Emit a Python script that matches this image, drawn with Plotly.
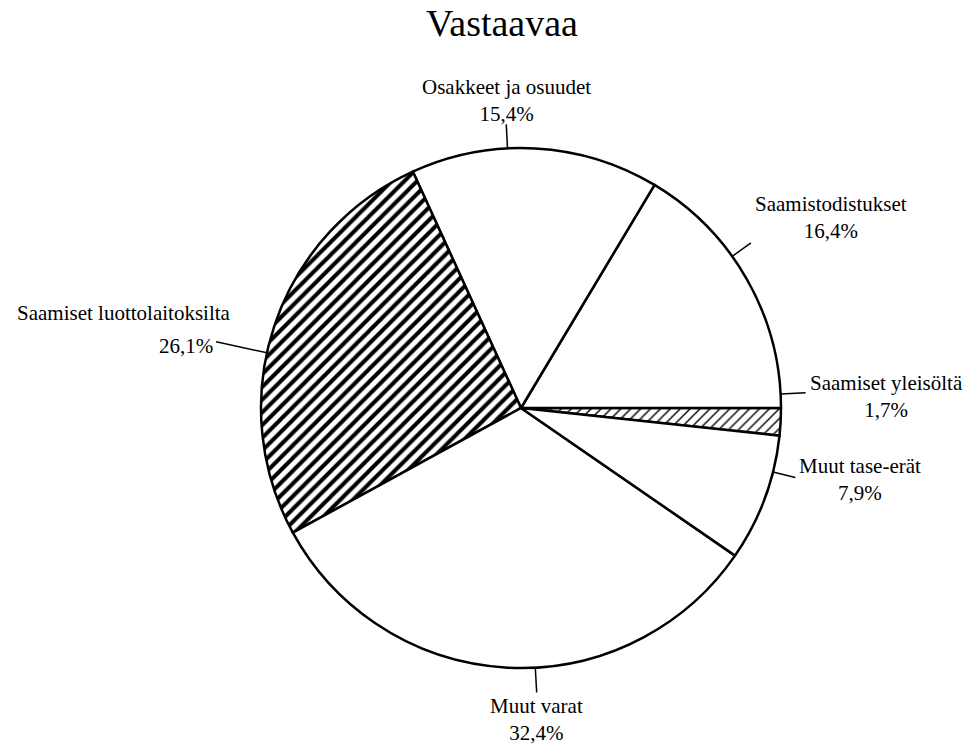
import math
import plotly.graph_objects as go

# ---- data ----
labels = ["Saamiset yleisöltä", "Saamistodistukset", "Osakkeet ja osuudet",
          "Saamiset luottolaitoksilta", "Muut varat", "Muut tase-erät"]
values = [1.7, 16.4, 15.4, 26.1, 32.4, 7.9]
title_text = "Vastaavaa"

# ---- styling ----
W, H = 970, 749
CX, CY, R = 521, 408, 260   # pie centre / radius (pixels)
FONT = "Liberation Serif, Times New Roman, serif"
patterns = ["/", "", "", "/", "", ""]
pat_size = [7, 8, 8, 9, 8, 8]
pat_solid = [0.2, 0.3, 0.3, 0.45, 0.3, 0.3]
leader_len = [25, 23, 24, 52, 25, 23]
# annotation anchoring per slice: (xanchor, yanchor, xshift, yshift)
label_anchor = [("left", "middle", 2, -4),
                ("left", "bottom", 2, -2),
                ("center", "bottom", 0, -4),
                ("right", "middle", 0, -4),
                ("center", "top", 0, 1),
                ("left", "middle", 2, -2)]

def px(x):
    return x / W

def py(y):
    return 1 - y / H

fig = go.Figure(go.Pie(
    labels=labels, values=values, sort=False, direction="counterclockwise",
    rotation=90, textinfo="none", hoverinfo="none", showlegend=False,
    domain=dict(x=[px(CX - R), px(CX + R)], y=[py(CY + R), py(CY - R)]),
    marker=dict(colors=["white"] * len(values),
                line=dict(color="black", width=2.5),
                pattern=dict(shape=patterns, fgcolor="black", bgcolor="white",
                             size=pat_size, solidity=pat_solid, fillmode="replace")),
))

total = sum(values)
cum = 0.0
shapes, annotations = [], []
for i, (lab, v) in enumerate(zip(labels, values)):
    mid = (cum + v / 2) / total * 2 * math.pi
    cum += v
    ex, ey = CX + R * math.cos(mid), CY - R * math.sin(mid)
    ox, oy = CX + (R + leader_len[i]) * math.cos(mid), CY - (R + leader_len[i]) * math.sin(mid)
    shapes.append(dict(type="line", xref="paper", yref="paper",
                       x0=px(ex), y0=py(ey), x1=px(ox), y1=py(oy),
                       line=dict(color="black", width=1.5)))
    pct = f"{v:.1f}".replace(".", ",") + "%"
    xa, ya, xs, ys = label_anchor[i]
    if lab == "Saamiset luottolaitoksilta":
        annotations.append(dict(text=pct, x=px(ox), y=py(oy), xref="paper", yref="paper",
                                xanchor="right", yanchor="middle", xshift=-1, yshift=ys,
                                showarrow=False, font=dict(family=FONT, size=21, color="black")))
        annotations.append(dict(text=lab, x=px(ox), y=py(oy), xref="paper", yref="paper",
                                xanchor="right", yanchor="middle", xshift=17, yshift=ys + 33,
                                showarrow=False, font=dict(family=FONT, size=21, color="black")))
    else:
        annotations.append(dict(text=f"{lab}<br>{pct}", x=px(ox), y=py(oy),
                                xref="paper", yref="paper", xanchor=xa, yanchor=ya,
                                xshift=xs, yshift=ys, align="center", showarrow=False,
                                font=dict(family=FONT, size=21, color="black")))

fig.update_layout(
    width=W, height=H, margin=dict(l=0, r=0, t=0, b=0),
    paper_bgcolor="white", plot_bgcolor="white",
    title=dict(text=title_text, x=px(502), y=py(23), xanchor="center",
               yanchor="middle", xref="paper", yref="paper",
               font=dict(family=FONT, size=38, color="black")),
    shapes=shapes, annotations=annotations,
)

fig.write_html("out.html", config={"displayModeBar": False},
               post_script="document.body.style.margin='0';document.body.style.overflow='hidden';")
